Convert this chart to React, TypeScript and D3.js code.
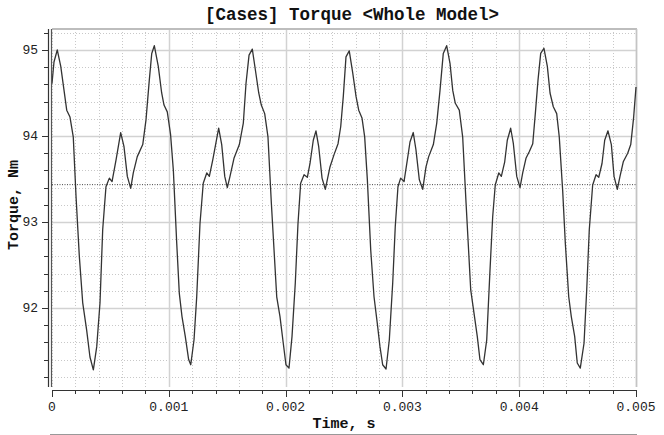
import { useEffect, useRef } from "react"
import * as d3 from "d3"

// time in ms
const timeMs = [
  0, 0.017, 0.045, 0.075, 0.103, 0.126, 0.154, 0.182, 0.206, 0.234, 0.263, 0.297, 0.325, 0.354, 0.383, 0.411,
  0.434, 0.462, 0.491, 0.514, 0.548, 0.588, 0.616, 0.645, 0.674, 0.696, 0.73, 0.777, 0.805, 0.833, 0.854, 0.876,
  0.91, 0.939, 0.959, 0.987, 1.015, 1.039, 1.068, 1.09, 1.113, 1.141, 1.17, 1.188, 1.216, 1.239, 1.267, 1.295,
  1.325, 1.347, 1.376, 1.427, 1.453, 1.479, 1.501, 1.524, 1.558, 1.604, 1.638, 1.661, 1.687, 1.715, 1.741, 1.77,
  1.792, 1.821, 1.849, 1.878, 1.924, 1.952, 1.98, 2.003, 2.029, 2.055, 2.083, 2.106, 2.129, 2.158, 2.186, 2.209,
  2.237, 2.26, 2.283, 2.312, 2.34, 2.38, 2.414, 2.449, 2.472, 2.494, 2.517, 2.545, 2.575, 2.603, 2.626, 2.654,
  2.677, 2.7, 2.729, 2.757, 2.785, 2.808, 2.831, 2.86, 2.888, 2.917, 2.939, 2.962, 2.985, 3.014, 3.042, 3.065,
  3.093, 3.116, 3.145, 3.174, 3.202, 3.225, 3.265, 3.294, 3.322, 3.35, 3.379, 3.408, 3.431, 3.453, 3.487, 3.516,
  3.545, 3.585, 3.613, 3.641, 3.664, 3.693, 3.722, 3.75, 3.773, 3.795, 3.825, 3.847, 3.876, 3.898, 3.927, 3.95,
  3.979, 4.007, 4.03, 4.058, 4.087, 4.116, 4.138, 4.161, 4.184, 4.212, 4.241, 4.264, 4.292, 4.321, 4.343, 4.372,
  4.395, 4.424, 4.446, 4.475, 4.497, 4.523, 4.555, 4.578, 4.6, 4.629, 4.658, 4.681, 4.709, 4.732, 4.76, 4.789,
  4.812, 4.84, 4.863, 4.891, 4.929, 4.955, 4.98, 5.0,
]

const torque = [
  94.61, 94.86, 95.0, 94.81, 94.53, 94.3, 94.22, 93.99, 93.29, 92.6, 92.06, 91.74, 91.43, 91.28, 91.55, 92.06,
  92.91, 93.41, 93.51, 93.47, 93.72, 94.04, 93.88, 93.53, 93.39, 93.57, 93.76, 93.9, 94.19, 94.65, 94.96, 95.05,
  94.81, 94.5, 94.36, 94.28, 94.02, 93.6, 92.75, 92.17, 91.9, 91.67, 91.4, 91.34, 91.63, 92.13, 92.98, 93.45,
  93.57, 93.53, 93.72, 94.09, 93.9, 93.53, 93.4, 93.53, 93.74, 93.9, 94.15, 94.61, 94.94, 95.01, 94.77, 94.5,
  94.36, 94.26, 93.99, 93.22, 92.13, 91.9, 91.59, 91.34, 91.3, 91.67, 92.29, 92.98, 93.45, 93.55, 93.52, 93.68,
  93.95, 94.06, 93.88, 93.51, 93.38, 93.64, 93.78, 93.91, 94.11, 94.46, 94.92, 94.99, 94.73, 94.46, 94.3, 94.21,
  93.99, 93.49, 92.67, 92.13, 91.82, 91.55, 91.34, 91.29, 91.63, 92.29, 92.95, 93.41, 93.51, 93.47, 93.72, 93.93,
  94.04, 93.84, 93.49, 93.38, 93.64, 93.76, 93.9, 94.15, 94.53, 94.96, 95.05, 94.84, 94.53, 94.38, 94.3, 93.99,
  93.22, 92.21, 91.94, 91.67, 91.4, 91.34, 91.63, 92.44, 93.06, 93.43, 93.57, 93.53, 93.7, 93.95, 94.09, 93.91,
  93.53, 93.4, 93.57, 93.74, 93.82, 93.91, 94.26, 94.65, 94.96, 95.02, 94.81, 94.5, 94.34, 94.26, 93.99, 93.37,
  92.75, 92.13, 91.9, 91.67, 91.36, 91.3, 91.59, 92.21, 92.91, 93.43, 93.55, 93.52, 93.68, 93.95, 94.06, 93.9,
  93.53, 93.38, 93.53, 93.7, 93.8, 93.9, 94.22, 94.57,
]

const meanTorque = 93.434

const xTicks = [0, 0.001, 0.002, 0.003, 0.004, 0.005]
const xTickLabels = ["0", "0.001", "0.002", "0.003", "0.004", "0.005"]
const yTicks = [92, 93, 94, 95]
const yTickLabels = ["92", "93", "94", "95"]

export default function App() {
  const svgRef = useRef(null)

  useEffect(() => {
    if (!svgRef.current) return
    const svg = d3.select(svgRef.current)
    svg.selectAll("*").remove()

    const width = 664
    const height = 435
    const left = 52
    const right = 636
    const top = 29
    const bottom = 387
    const mono = "'Liberation Mono', monospace"

    const x = d3.scaleLinear().domain([0, 0.005]).range([left, right])
    const y = d3.scaleLinear().domain([91.081, 95.244]).range([bottom, top])

    svg.append("rect").attr("width", width).attr("height", height).attr("fill", "#fff")

    // minor grid
    const xMinor = d3.range(0, 26).map((i) => i * 0.0002)
    const yMinor = d3.range(0, 21).map((i) => 91.2 + i * 0.2).filter((v) => v < 95.24)

    const grid = svg.append("g")
    grid
      .selectAll(".vminor")
      .data(xMinor)
      .enter()
      .append("line")
      .attr("x1", (d) => Math.round(x(d)) + 0.5)
      .attr("x2", (d) => Math.round(x(d)) + 0.5)
      .attr("y1", top)
      .attr("y2", bottom)
      .attr("stroke", "#c8c8c8")
      .attr("stroke-dasharray", "1,2")

    grid
      .selectAll(".hminor")
      .data(yMinor)
      .enter()
      .append("line")
      .attr("x1", left)
      .attr("x2", right)
      .attr("y1", (d) => Math.round(y(d)) + 0.5)
      .attr("y2", (d) => Math.round(y(d)) + 0.5)
      .attr("stroke", "#c8c8c8")
      .attr("stroke-dasharray", "1,2")

    // major grid
    grid
      .selectAll(".vmajor")
      .data(xTicks.slice(1))
      .enter()
      .append("line")
      .attr("x1", (d) => Math.round(x(d)) + 0.5)
      .attr("x2", (d) => Math.round(x(d)) + 0.5)
      .attr("y1", top)
      .attr("y2", bottom)
      .attr("stroke", "#d2d2d2")
      .attr("stroke-width", 1.5)

    grid
      .selectAll(".hmajor")
      .data(yTicks)
      .enter()
      .append("line")
      .attr("x1", left)
      .attr("x2", right)
      .attr("y1", (d) => Math.round(y(d)) + 0.5)
      .attr("y2", (d) => Math.round(y(d)) + 0.5)
      .attr("stroke", "#d2d2d2")
      .attr("stroke-width", 1.5)

    // frame top / right
    svg.append("line").attr("x1", left).attr("x2", right + 1).attr("y1", top).attr("y2", top).attr("stroke", "#bdbdbd").attr("stroke-width", 2)
    svg.append("line").attr("x1", right + 0.5).attr("x2", right + 0.5).attr("y1", top).attr("y2", bottom).attr("stroke", "#c4c4c4").attr("stroke-width", 1.5)

    // mean line
    svg
      .append("line")
      .attr("x1", left)
      .attr("x2", right)
      .attr("y1", y(meanTorque))
      .attr("y2", y(meanTorque))
      .attr("stroke", "#444")
      .attr("stroke-dasharray", "1,1.5")

    // curve
    const points = timeMs.map((t, i) => [t / 1000, torque[i]])
    const line = d3
      .line()
      .x((d) => x(d[0]))
      .y((d) => y(d[1]))
    svg
      .append("path")
      .datum(points)
      .attr("d", line)
      .attr("fill", "none")
      .attr("stroke", "#333")
      .attr("stroke-width", 1.3)
      .attr("stroke-linejoin", "round")

    // y axis: double line
    svg.append("line").attr("x1", 48.5).attr("x2", 48.5).attr("y1", top).attr("y2", bottom).attr("stroke", "#333").attr("stroke-width", 1.2)
    svg.append("line").attr("x1", 51.5).attr("x2", 51.5).attr("y1", top).attr("y2", bottom).attr("stroke", "#555").attr("stroke-width", 1.2)

    svg
      .selectAll(".ytickminor")
      .data(yMinor)
      .enter()
      .append("line")
      .attr("x1", 44)
      .attr("x2", 48)
      .attr("y1", (d) => Math.round(y(d)) + 0.5)
      .attr("y2", (d) => Math.round(y(d)) + 0.5)
      .attr("stroke", "#333")
    svg
      .selectAll(".ytickmajor")
      .data(yTicks)
      .enter()
      .append("line")
      .attr("x1", 42)
      .attr("x2", 48)
      .attr("y1", (d) => Math.round(y(d)) + 0.5)
      .attr("y2", (d) => Math.round(y(d)) + 0.5)
      .attr("stroke", "#333")
    svg
      .selectAll(".ylabel")
      .data(yTicks)
      .enter()
      .append("text")
      .attr("x", 38)
      .attr("y", (d) => y(d) + 4.5)
      .attr("text-anchor", "end")
      .attr("font-family", mono)
      .attr("font-size", "13px")
      .attr("fill", "#222")
      .text((d, i) => yTickLabels[i])

    // x axis
    svg.append("line").attr("x1", left).attr("x2", right + 1).attr("y1", 390.5).attr("y2", 390.5).attr("stroke", "#333").attr("stroke-width", 1.2)
    svg
      .selectAll(".xtickminor")
      .data(xMinor)
      .enter()
      .append("line")
      .attr("x1", (d) => Math.round(x(d)) + 0.5)
      .attr("x2", (d) => Math.round(x(d)) + 0.5)
      .attr("y1", 390)
      .attr("y2", 394)
      .attr("stroke", "#333")
    svg
      .selectAll(".xtickmajor")
      .data(xTicks)
      .enter()
      .append("line")
      .attr("x1", (d) => Math.round(x(d)) + 0.5)
      .attr("x2", (d) => Math.round(x(d)) + 0.5)
      .attr("y1", 390)
      .attr("y2", 397)
      .attr("stroke", "#333")
    svg
      .selectAll(".xlabel")
      .data(xTicks)
      .enter()
      .append("text")
      .attr("x", (d) => x(d))
      .attr("y", 411)
      .attr("text-anchor", "middle")
      .attr("font-family", mono)
      .attr("font-size", "13px")
      .attr("fill", "#222")
      .text((d, i) => xTickLabels[i])

    // titles
    svg
      .append("text")
      .attr("x", 352)
      .attr("y", 20)
      .attr("text-anchor", "middle")
      .attr("font-family", mono)
      .attr("font-size", "17.5px")
      .attr("font-weight", "bold")
      .attr("fill", "#111")
      .text("[Cases] Torque <Whole Model>")

    svg
      .append("text")
      .attr("x", 344)
      .attr("y", 428)
      .attr("text-anchor", "middle")
      .attr("font-family", mono)
      .attr("font-size", "15px")
      .attr("font-weight", "bold")
      .attr("fill", "#111")
      .text("Time, s")

    svg
      .append("text")
      .attr("transform", "translate(18,205) rotate(-90)")
      .attr("text-anchor", "middle")
      .attr("font-family", mono)
      .attr("font-size", "15px")
      .attr("font-weight", "bold")
      .attr("fill", "#111")
      .text("Torque, Nm")

    // bottom rule
    svg.append("line").attr("x1", 50).attr("x2", 637).attr("y1", 434.5).attr("y2", 434.5).attr("stroke", "#999")

    svg.attr("width", width).attr("height", height).attr("viewBox", [0, 0, width, height])
  }, [])

  return (
    <div style={{ position: "absolute", left: 0, top: 0 }}>
      <svg ref={svgRef} style={{ display: "block" }}></svg>
    </div>
  )
}
